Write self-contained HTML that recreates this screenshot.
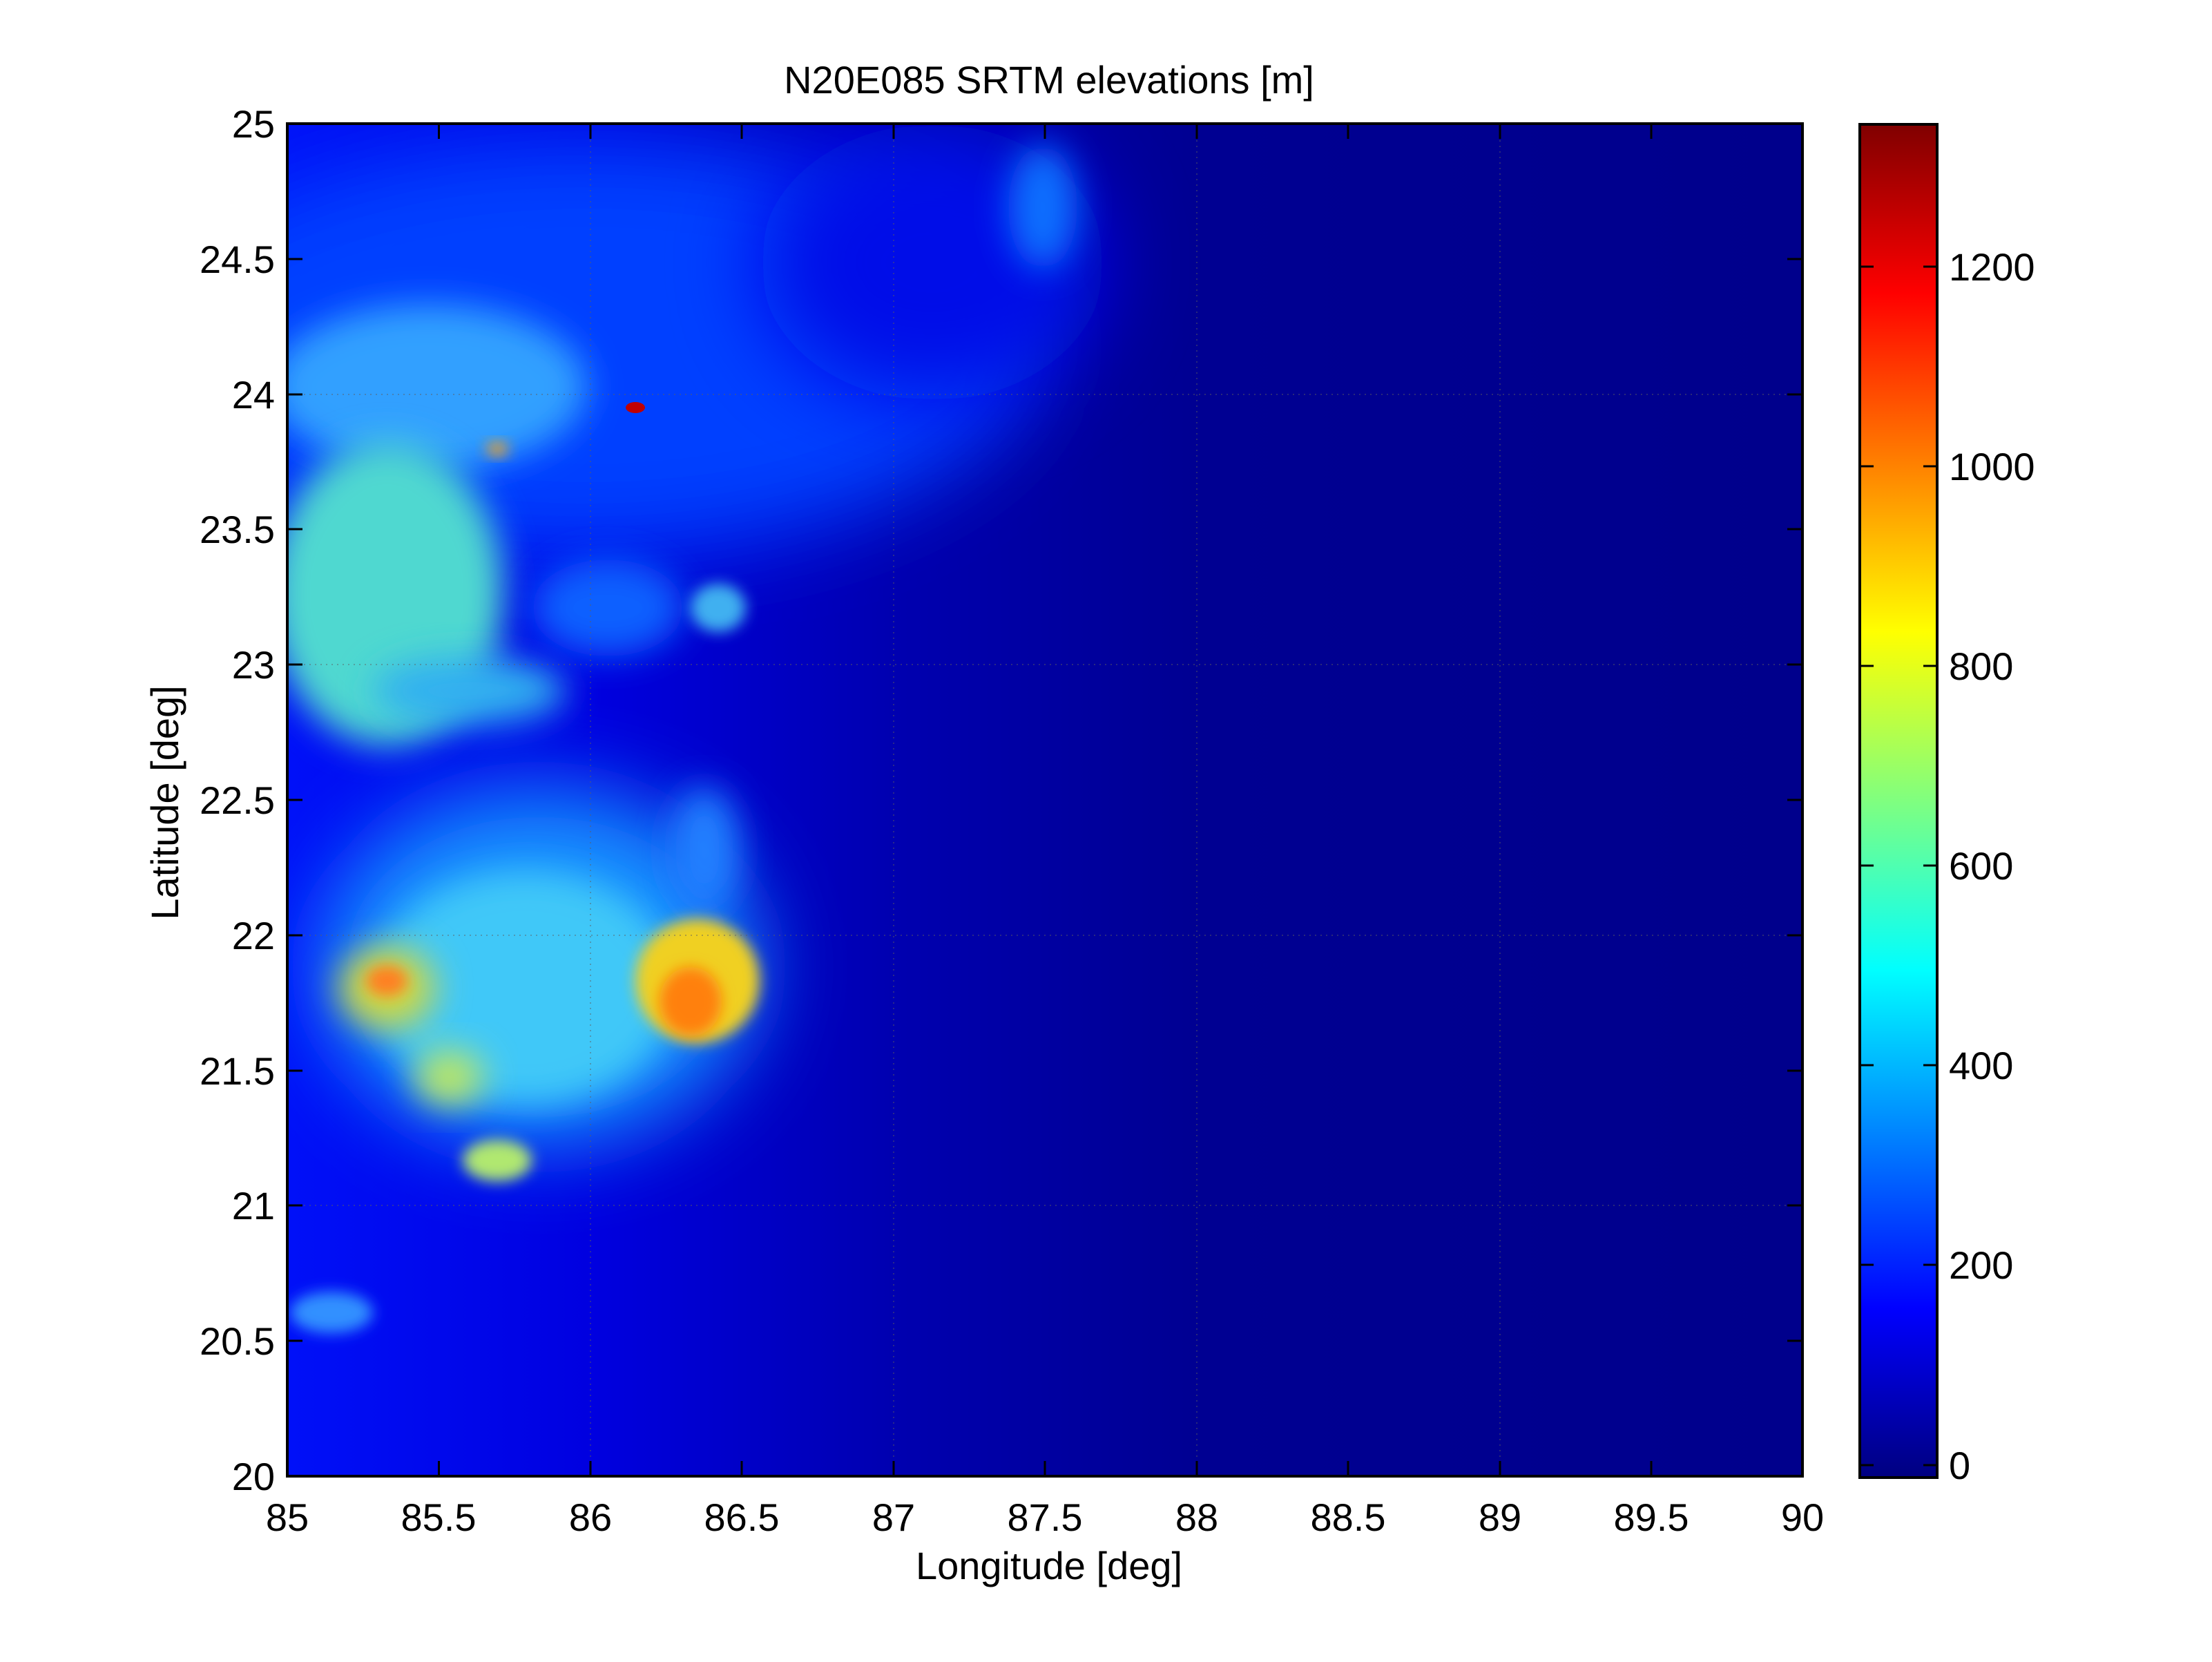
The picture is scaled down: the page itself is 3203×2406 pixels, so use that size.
<!DOCTYPE html>
<html><head><style>
body{margin:0;background:#fff;}
svg text{font-family:"Liberation Sans",Arial,sans-serif;fill:#000;}
</style></head><body>
<svg width="3203" height="2401" viewBox="0 0 3203 2401" xmlns="http://www.w3.org/2000/svg">
<defs>
<filter id="b1" x="-50%" y="-50%" width="200%" height="200%"><feGaussianBlur stdDeviation="60"/></filter>
<filter id="b2" x="-50%" y="-50%" width="200%" height="200%"><feGaussianBlur stdDeviation="25"/></filter>
<filter id="b3" x="-50%" y="-50%" width="200%" height="200%"><feGaussianBlur stdDeviation="10"/></filter>
<clipPath id="cp"><rect x="416" y="179" width="2194" height="1958"/></clipPath>
<linearGradient id="jet" x1="0" y1="1" x2="0" y2="0">
<stop offset="0" stop-color="#000080"/>
<stop offset="0.125" stop-color="#0000ff"/>
<stop offset="0.375" stop-color="#00ffff"/>
<stop offset="0.625" stop-color="#ffff00"/>
<stop offset="0.875" stop-color="#ff0000"/>
<stop offset="1" stop-color="#800000"/>
</linearGradient>
<linearGradient id="west" x1="0" y1="0" x2="1" y2="0">
<stop offset="0" stop-color="#0010f8"/>
<stop offset="0.2" stop-color="#0000e0"/>
<stop offset="0.4" stop-color="#0000b0"/>
<stop offset="0.6" stop-color="#000092"/>
<stop offset="1" stop-color="#00008c"/>
</linearGradient>
</defs>
<g clip-path="url(#cp)">
<rect x="416" y="179" width="2194" height="1958" fill="url(#west)"/>
<ellipse cx="850" cy="500" rx="650" ry="300" fill="#0040ff" filter="url(#b1)"/>
<ellipse cx="1350" cy="380" rx="250" ry="200" fill="#0010e8" filter="url(#b1)"/>
<ellipse cx="1510" cy="300" rx="50" ry="90" fill="#1070ff" filter="url(#b2)"/>
<ellipse cx="620" cy="560" rx="230" ry="120" fill="#30a0ff" filter="url(#b2)"/>
<ellipse cx="560" cy="860" rx="170" ry="220" fill="#50d8d0" filter="url(#b2)"/>
<ellipse cx="680" cy="1000" rx="140" ry="50" fill="#30b0f0" filter="url(#b2)"/>
<ellipse cx="880" cy="880" rx="110" ry="70" fill="#1060ff" filter="url(#b2)"/>
<ellipse cx="1040" cy="880" rx="40" ry="35" fill="#40b0f0" filter="url(#b3)"/>
<ellipse cx="780" cy="1400" rx="320" ry="260" fill="#1890ff" filter="url(#b1)"/>
<ellipse cx="760" cy="1430" rx="220" ry="170" fill="#40c8f8" filter="url(#b2)"/>
<ellipse cx="1020" cy="1230" rx="50" ry="90" fill="#2080ff" filter="url(#b2)"/>
<ellipse cx="1010" cy="1420" rx="90" ry="90" fill="#f0d020" filter="url(#b3)"/>
<ellipse cx="1000" cy="1450" rx="45" ry="50" fill="#ff8010" filter="url(#b3)"/>
<ellipse cx="560" cy="1430" rx="70" ry="60" fill="#d0d840" filter="url(#b2)"/>
<ellipse cx="560" cy="1420" rx="30" ry="22" fill="#ff8020" filter="url(#b3)"/>
<ellipse cx="650" cy="1560" rx="50" ry="40" fill="#c0e860" filter="url(#b2)"/>
<ellipse cx="720" cy="1680" rx="50" ry="30" fill="#b0e870" filter="url(#b3)"/>
<ellipse cx="480" cy="1900" rx="60" ry="30" fill="#3090ff" filter="url(#b3)"/>
<ellipse cx="920" cy="590" rx="14" ry="8" fill="#c00000"/>
<ellipse cx="720" cy="650" rx="16" ry="10" fill="#f0a020" filter="url(#b3)"/>
</g>
<g stroke="#606060" stroke-width="1.5" stroke-dasharray="2,6" opacity="0.6">
<line x1="855" y1="179" x2="855" y2="2137"/><line x1="1294" y1="179" x2="1294" y2="2137"/>
<line x1="1733" y1="179" x2="1733" y2="2137"/><line x1="2172" y1="179" x2="2172" y2="2137"/>
<line x1="416" y1="571" x2="2610" y2="571"/><line x1="416" y1="962" x2="2610" y2="962"/>
<line x1="416" y1="1354" x2="2610" y2="1354"/><line x1="416" y1="1745" x2="2610" y2="1745"/>
</g>
<rect x="416" y="179" width="2194" height="1958" fill="none" stroke="#000" stroke-width="4"/>
<g stroke="#000" stroke-width="3">
<path d="M635.5 2137v-22M855 2137v-22M1074 2137v-22M1294 2137v-22M1513 2137v-22M1733 2137v-22M1952 2137v-22M2172 2137v-22M2391 2137v-22"/>
<path d="M635.5 179v22M855 179v22M1074 179v22M1294 179v22M1513 179v22M1733 179v22M1952 179v22M2172 179v22M2391 179v22"/>
<path d="M416 375h22M416 571h22M416 766h22M416 962h22M416 1158h22M416 1354h22M416 1550h22M416 1745h22M416 1941h22"/>
<path d="M2610 375h-22M2610 571h-22M2610 766h-22M2610 962h-22M2610 1158h-22M2610 1354h-22M2610 1550h-22M2610 1745h-22M2610 1941h-22"/>
</g>
<g font-size="56" text-anchor="middle">
<text x="416" y="2216">85</text><text x="635" y="2216">85.5</text><text x="855" y="2216">86</text><text x="1074" y="2216">86.5</text><text x="1294" y="2216">87</text><text x="1513" y="2216">87.5</text><text x="1733" y="2216">88</text><text x="1952" y="2216">88.5</text><text x="2172" y="2216">89</text><text x="2391" y="2216">89.5</text><text x="2610" y="2216">90</text>
</g>
<g font-size="56" text-anchor="end">
<text x="398" y="199">25</text><text x="398" y="395">24.5</text><text x="398" y="591">24</text><text x="398" y="786">23.5</text><text x="398" y="982">23</text><text x="398" y="1178">22.5</text><text x="398" y="1374">22</text><text x="398" y="1570">21.5</text><text x="398" y="1765">21</text><text x="398" y="1961">20.5</text><text x="398" y="2157">20</text>
</g>
<text x="1519" y="135" font-size="56" text-anchor="middle">N20E085 SRTM elevations [m]</text>
<text x="1519" y="2286" font-size="56" text-anchor="middle">Longitude [deg]</text>
<text transform="translate(258,1162) rotate(-90)" font-size="56" text-anchor="middle">Latitude [deg]</text>
<rect x="2693" y="180" width="112" height="1959" fill="url(#jet)"/>
<rect x="2693" y="180" width="112" height="1959" fill="none" stroke="#000" stroke-width="4"/>
<g stroke="#000" stroke-width="3">
<path d="M2693 2121h20M2805 2121h-20M2693 1831h20M2805 1831h-20M2693 1542h20M2805 1542h-20M2693 1253h20M2805 1253h-20M2693 964h20M2805 964h-20M2693 675h20M2805 675h-20M2693 386h20M2805 386h-20"/>
</g>
<g font-size="56">
<text x="2822" y="2141">0</text><text x="2822" y="1851">200</text><text x="2822" y="1562">400</text><text x="2822" y="1273">600</text><text x="2822" y="984">800</text><text x="2822" y="695">1000</text><text x="2822" y="406">1200</text>
</g>
</svg>
</body></html>
